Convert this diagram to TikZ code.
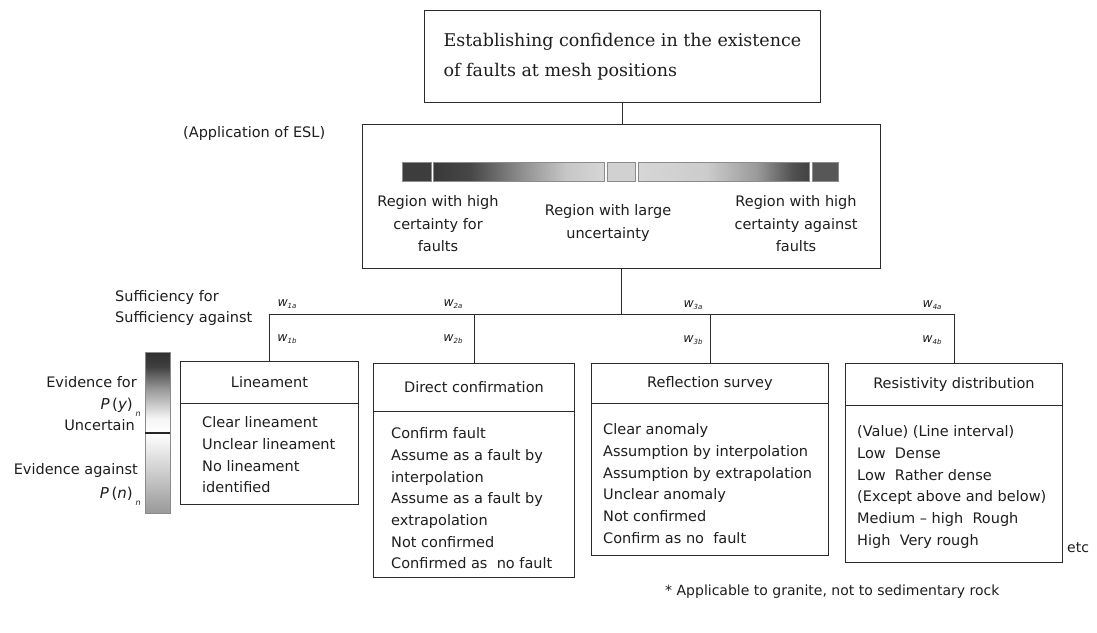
\documentclass[tikz,border=0pt]{standalone}
\usepackage{fontspec}
\setmainfont{DejaVu Sans}
\newfontfamily\titlefont{DejaVu Serif}
\usetikzlibrary{calc}

\definecolor{ink}{HTML}{2B2B2B}
\definecolor{txt}{HTML}{1E1E1E}

% Shadings are 100bp wide; the shaded path covers 25bp..75bp.
\pgfdeclarehorizontalshading{forfaults}{100bp}{color(0bp)=(black!78); color(25bp)=(black!78); color(36bp)=(black!72); color(52bp)=(black!42); color(64bp)=(black!22); color(75bp)=(black!16); color(100bp)=(black!16)}
\pgfdeclarehorizontalshading{againstfaults}{100bp}{color(0bp)=(black!16); color(25bp)=(black!16); color(45bp)=(black!20); color(60bp)=(black!40); color(70bp)=(black!68); color(75bp)=(black!74); color(100bp)=(black!74)}
\pgfdeclareverticalshading{evidencefor}{100bp}{color(0bp)=(white); color(25bp)=(white); color(34bp)=(black!4); color(52bp)=(black!40); color(66bp)=(black!75); color(75bp)=(black!82); color(100bp)=(black!82)}
\pgfdeclareverticalshading{evidenceagainst}{100bp}{color(0bp)=(black!40); color(25bp)=(black!40); color(60bp)=(black!12); color(75bp)=(white); color(100bp)=(white)}

% weight label: italic w with a small lowered index
\newcommand{\wt}[1]{{\fontsize{12.5}{12.5}\selectfont\itshape w}\raisebox{-2.5pt}{\fontsize{7}{7}\selectfont\itshape #1}}
% probability label with its lowered n
\newcommand{\prob}[1]{{\itshape P}\,({\itshape #1})\hspace{3pt}\raisebox{-7pt}{\fontsize{8}{8}\selectfont\itshape n}}

\begin{document}
\begin{tikzpicture}[x=1pt,y=-1pt,text=txt,
  every node/.style={inner sep=0pt},
  frame/.style={draw=ink,line width=0.9pt,fill=white},
  link/.style={draw=ink,line width=0.8pt},
  body/.style={font=\fontsize{14.5}{21.7}\selectfont},
  list/.style={body,anchor=north west,align=left},
  head/.style={frame,body},
  wlabel/.style={},
  segment/.style={draw=black!45,line width=0.4pt}]
\useasboundingbox[fill=white] (0,0) rectangle (1097,632);

% goal
\node[frame,minimum width=396pt,minimum height=92pt,anchor=north west,align=left,
      font=\titlefont\fontsize{17.5}{30}\selectfont] (goal) at (424,10)
  {Establishing confidence in the existence\\of faults at mesh positions};

% evidence support logic summary
\node[frame,minimum width=518pt,minimum height=144pt,anchor=north west] (esl) at (362,124) {};
\node[body,anchor=west] (eslnote) at (183,133) {(Application of ESL)};

\fill[black!76,segment] (402,162) rectangle (431,181);
\shadedraw[shading=forfaults,segment] (433,162) rectangle (604,181);
\filldraw[fill=black!18,segment] (607,162) rectangle (635,181);
\shadedraw[shading=againstfaults,segment] (638,162) rectangle (809,181);
\filldraw[fill=black!66,segment] (812,162) rectangle (838,181);

\node[body,align=center,font=\fontsize{14.5}{22.5}\selectfont] (rfor) at (438,224) {Region with high\\certainty for\\faults};
\node[body,align=center,font=\fontsize{14.5}{22.5}\selectfont] (runc) at (608,223) {Region with large\\uncertainty};
\node[body,align=center,font=\fontsize{14.5}{22.5}\selectfont] (ragn) at (796,224) {Region with high\\certainty against\\faults};

% sufficiency legend
\node[body,anchor=west,align=left,font=\fontsize{14.5}{21}\selectfont] (suff) at (115,307.5) {Sufficiency for\\Sufficiency against};

% evidence scale
\shadedraw[shading=evidencefor,segment] (145,352) rectangle (170,433);
\shadedraw[shading=evidenceagainst,segment] (145,433) rectangle (170,513);
\draw[line width=1.3pt,black!85] (145,433) -- (170,433);

\node[body,anchor=east] (evfor) at (137,382) {Evidence for};
\node[anchor=base east,font=\fontsize{15}{15}\selectfont] (py) at (141,409) {\prob{y}};
\node[body,anchor=east] (unc) at (135,425) {Uncertain};
\node[body,anchor=east] (evag) at (138,470) {Evidence against};
\node[anchor=base east,font=\fontsize{15}{15}\selectfont] (pn) at (141,498) {\prob{n}};

% evidence categories
\node[head,minimum width=178pt,minimum height=42pt,anchor=north west] (linh) at (180,361) {Lineament};
\node[frame,minimum width=178pt,minimum height=101pt,anchor=north west] (linb) at (180,403) {};
\node[list] (lint) at (202,416.5) {Clear lineament\\Unclear lineament\\No lineament\\identified};

\node[head,minimum width=201pt,minimum height=48pt,anchor=north west] (dirh) at (373,363) {Direct confirmation};
\node[frame,minimum width=201pt,minimum height=166pt,anchor=north west] (dirb) at (373,411) {};
\node[list] (dirt) at (391,427.5) {Confirm fault\\Assume as a fault by\\interpolation\\Assume as a fault by\\extrapolation\\Not confirmed\\Confirmed as\ \ no fault};

\node[head,minimum width=237pt,minimum height=40pt,anchor=north west] (refh) at (591,363) {Reflection survey};
\node[frame,minimum width=237pt,minimum height=152pt,anchor=north west] (refb) at (591,403) {};
\node[list] (reft) at (603,423.5) {Clear anomaly\\Assumption by interpolation\\Assumption by extrapolation\\Unclear anomaly\\Not confirmed\\Confirm as no\ \ fault};

\node[head,minimum width=217pt,minimum height=42pt,anchor=north west] (resh) at (845,363) {Resistivity distribution};
\node[frame,minimum width=217pt,minimum height=157pt,anchor=north west] (resb) at (845,405) {};
\node[list] (rest) at (857,425.5) {(Value) (Line interval)\\Low\ \ Dense\\Low\ \ Rather dense\\(Except above and below)\\Medium -- high\ \ Rough\\High\ \ Very rough};
\node[body,anchor=west,font=\fontsize{14}{14}\selectfont] (etc) at (1067,548) {etc};

% connectors
\coordinate (bus) at (0,314);
\draw[link] (goal.south) -- (goal.south |- esl.north);
\draw[link] (esl.south) -- (esl.south |- bus);
\draw[link] (linh.north) -- (linh.north |- bus) -- (resh.north |- bus) -- (resh.north);
\draw[link] (dirh.north) -- (dirh.north |- bus);
\draw[link] (refh.north) -- (refh.north |- bus);

% weights
\node[wlabel] (w1a) at (287,304) {\wt{1a}};
\node[wlabel] (w1b) at (287,339) {\wt{1b}};
\node[wlabel] (w2a) at (453,304) {\wt{2a}};
\node[wlabel] (w2b) at (453,339) {\wt{2b}};
\node[wlabel] (w3a) at (693,305) {\wt{3a}};
\node[wlabel] (w3b) at (693,340) {\wt{3b}};
\node[wlabel] (w4a) at (932,305) {\wt{4a}};
\node[wlabel] (w4b) at (932,340) {\wt{4b}};

% footnote
\node[anchor=west,font=\fontsize{14}{14}\selectfont] (note) at (665,592) {* Applicable to granite, not to sedimentary rock};
\end{tikzpicture}
\end{document}
